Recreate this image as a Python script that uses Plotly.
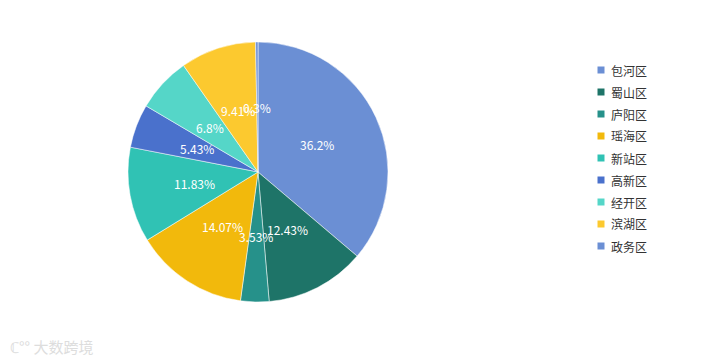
import math
import plotly.graph_objects as go

W, H = 701, 361
OFF = 8  # page body margin offset

districts = ["包河区", "蜀山区", "庐阳区", "瑶海区", "新站区", "高新区", "经开区", "滨湖区", "政务区"]
shares = [36.2, 12.43, 3.53, 14.07, 11.83, 5.43, 6.8, 9.41, 0.3]
colors = ["#6b8fd4", "#1e7468", "#26918a", "#f2b90c", "#30c2b4",
          "#4a71cc", "#55d6c8", "#fcc92f", "#6b8fd4"]

FONT = "Noto Sans CJK SC, Microsoft YaHei, sans-serif"

def px2x(px):
    return (px - OFF) / W

def py2y(py):
    return 1 - (py - OFF) / H

# pie geometry (screen pixels)
cx, cy, R = 258, 172, 130

fig = go.Figure()
fig.add_trace(go.Pie(
    labels=districts,
    values=shares,
    sort=False,
    direction="clockwise",
    rotation=0,
    textinfo="none",
    hoverinfo="label+percent",
    marker=dict(colors=colors, line=dict(color="#ffffff", width=0.5)),
    domain=dict(x=[px2x(cx - R), px2x(cx + R)], y=[py2y(cy + R), py2y(cy - R)]),
    showlegend=False,
))

annotations = []
shapes = []

# inside labels at half radius, mid-angle of each slice
total = sum(shares)
cum = 0.0
for v in shares:
    mid = (cum + v / 2) / total
    cum += v
    theta = math.radians(90 - 360 * mid)
    px = cx + 0.5 * R * math.cos(theta)
    py = cy - 0.5 * R * math.sin(theta)
    annotations.append(dict(
        x=px2x(px), y=py2y(py), xref="paper", yref="paper",
        text=f"{v:g}%", showarrow=False,
        font=dict(color="#ffffff", size=12, family=FONT),
        xanchor="center", yanchor="middle",
    ))

# legend
lx, ly0, step = 601, 70, 22
for i, (name, col) in enumerate(zip(districts, colors)):
    y = ly0 + i * step
    shapes.append(dict(type="rect", xref="paper", yref="paper",
                       x0=px2x(lx - 3.5), x1=px2x(lx + 3.5),
                       y0=py2y(y + 3.5), y1=py2y(y - 3.5),
                       fillcolor=col, line=dict(width=0)))
    annotations.append(dict(
        x=px2x(lx + 8), y=py2y(y), xref="paper", yref="paper",
        text=name, showarrow=False, xanchor="left", yanchor="middle",
        font=dict(color="#333333", size=12, family=FONT),
    ))

# watermark
annotations.append(dict(
    x=px2x(8), y=py2y(346), xref="paper", yref="paper",
    text="ℂ°° 大数跨境", showarrow=False, xanchor="left", yanchor="middle",
    font=dict(color="#dddddd", size=15, family=FONT),
))

fig.update_layout(
    width=W, height=H,
    margin=dict(l=0, r=0, t=0, b=0),
    paper_bgcolor="#ffffff",
    plot_bgcolor="#ffffff",
    annotations=annotations,
    shapes=shapes,
    showlegend=False,
)

fig.write_html("out.html")
